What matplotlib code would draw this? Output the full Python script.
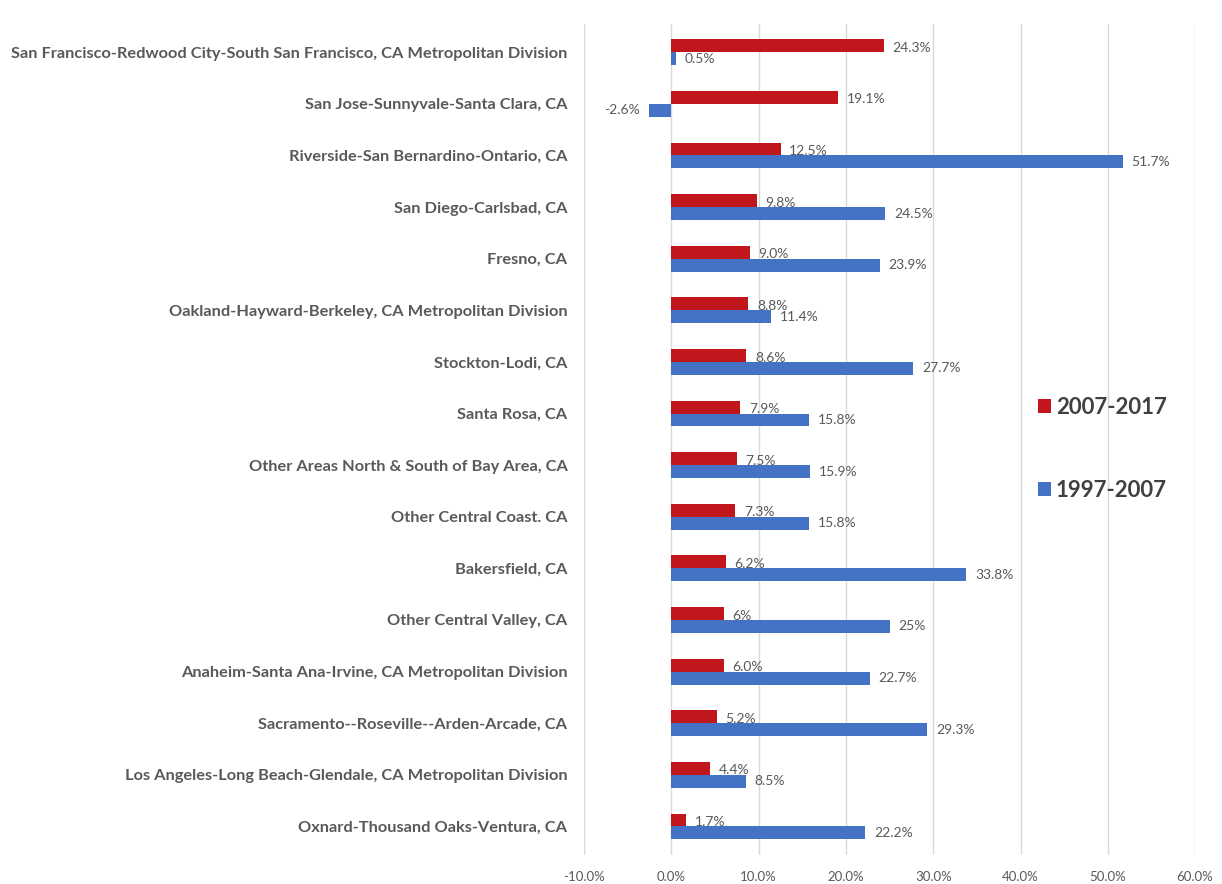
import numpy as np
import matplotlib
matplotlib.use('Agg')
import matplotlib.pyplot as plt

# Data (top to bottom as in the chart)
areas = [
    'San Francisco-Redwood City-South San Francisco, CA Metropolitan Division',
    'San Jose-Sunnyvale-Santa Clara, CA',
    'Riverside-San Bernardino-Ontario, CA',
    'San Diego-Carlsbad, CA',
    'Fresno, CA',
    'Oakland-Hayward-Berkeley, CA Metropolitan Division',
    'Stockton-Lodi, CA',
    'Santa Rosa, CA',
    'Other Areas North & South of Bay Area, CA',
    'Other Central Coast. CA',
    'Bakersfield, CA',
    'Other Central Valley, CA',
    'Anaheim-Santa Ana-Irvine, CA Metropolitan Division',
    'Sacramento--Roseville--Arden-Arcade, CA',
    'Los Angeles-Long Beach-Glendale, CA Metropolitan Division',
    'Oxnard-Thousand Oaks-Ventura, CA',
]
growth_0717 = [24.3, 19.1, 12.5, 9.8, 9.0, 8.8, 8.6, 7.9, 7.5, 7.3, 6.2, 6.0, 6.0, 5.2, 4.4, 1.7]
growth_9707 = [0.5, -2.6, 51.7, 24.5, 23.9, 11.4, 27.7, 15.8, 15.9, 15.8, 33.8, 25.0, 22.7, 29.3, 8.5, 22.2]
labels_0717 = ['24.3%', '19.1%', '12.5%', '9.8%', '9.0%', '8.8%', '8.6%', '7.9%',
               '7.5%', '7.3%', '6.2%', '6%', '6.0%', '5.2%', '4.4%', '1.7%']
labels_9707 = ['0.5%', '-2.6%', '51.7%', '24.5%', '23.9%', '11.4%', '27.7%', '15.8%',
               '15.9%', '15.8%', '33.8%', '25%', '22.7%', '29.3%', '8.5%', '22.2%']
xticks = [-10, 0, 10, 20, 30, 40, 50, 60]

red = '#C0161C'
blue = '#4472C4'
grey = '#595959'

plt.rcParams['font.family'] = ['Lato', 'DejaVu Sans']

fig = plt.figure(figsize=(12.22, 8.84), dpi=100)
ax = fig.add_axes([0.478, 0.033, 0.5, 0.94])

y = np.arange(len(areas))
h = 0.25
b1 = ax.barh(y - h / 2, growth_0717, height=h, color=red, zorder=3, label='2007-2017')
b2 = ax.barh(y + h / 2, growth_9707, height=h, color=blue, zorder=3, label='1997-2007')

# data labels
for yi, v, s in zip(y, growth_0717, labels_0717):
    ax.text(v + 1.0, yi - h / 2 + 0.04, s, va='center', ha='left', fontsize=10,
            color=grey, zorder=2)
for yi, v, s in zip(y, growth_9707, labels_9707):
    if v < 0:
        ax.text(v - 1.0, yi + h / 2, s, va='center', ha='right', fontsize=10,
                color=grey, zorder=2)
    else:
        ax.text(v + 1.0, yi + h / 2, s, va='center', ha='left', fontsize=10,
                color=grey, zorder=2)

ax.set_ylim(len(areas) - 0.45, -0.55)
ax.set_xlim(-10, 60)
ax.set_yticks(y)
ax.set_yticklabels(areas, fontsize=11.8, fontweight='bold', color=grey)
ax.set_xticks(xticks)
ax.set_xticklabels([f'{t:.1f}%' for t in xticks], fontsize=9.5, color=grey)
ax.tick_params(axis='both', length=0)
ax.tick_params(axis='y', pad=12)
ax.tick_params(axis='x', pad=12)
for sp in ax.spines.values():
    sp.set_visible(False)
ax.grid(axis='x', color='#D9D9D9', linewidth=1, zorder=0)

ax.legend(handles=[b1, b2], loc='upper left', bbox_to_anchor=(0.71, 0.575),
          frameon=False, labelcolor='#404040',
          prop={'weight': 'bold', 'size': 16},
          handlelength=0.6, handleheight=0.6, handletextpad=0.2, labelspacing=2.8)

fig.savefig('out.png', dpi=100, facecolor='white')
